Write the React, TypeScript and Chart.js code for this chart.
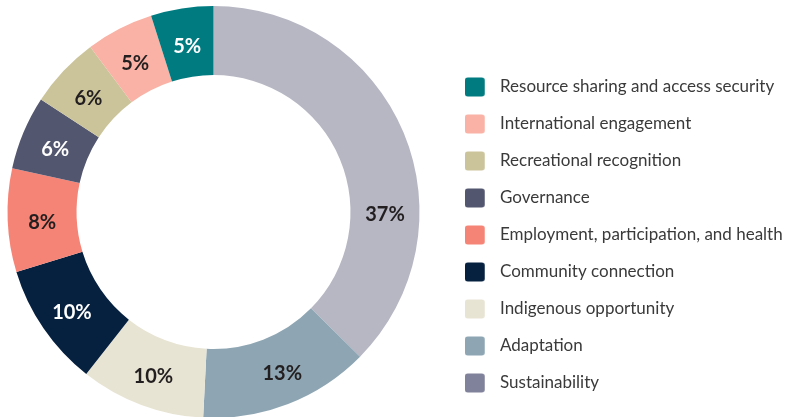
import React, { useEffect, useRef } from 'react';
import { Chart, registerables } from 'chart.js';

Chart.register(...registerables);

// Data (clockwise from 12 o'clock)
const categories = [
  'Sustainability',
  'Adaptation',
  'Indigenous opportunity',
  'Community connection',
  'Employment, participation, and health',
  'Governance',
  'Recreational recognition',
  'International engagement',
  'Resource sharing and access security',
];
const shares = [37.4, 13.4, 9.8, 9.7, 8.1, 5.8, 5.6, 5.3, 4.9];
const shareLabels = ['37%', '13%', '10%', '10%', '8%', '6%', '6%', '5%', '5%'];

// Styles
const sliceColors = ['#b7b7c4', '#8ea6b3', '#e8e4d3', '#06203f', '#f58476', '#53566f', '#cbc49b', '#f9b2a5', '#007b80'];
const legendColors = ['#80819a', '#8ea6b3', '#e8e4d3', '#06203f', '#f58476', '#53566f', '#cbc49b', '#f9b2a5', '#007b80'];
const labelColors = ['#231f20', '#231f20', '#231f20', '#ffffff', '#231f20', '#ffffff', '#231f20', '#231f20', '#ffffff'];
const labelAnchor = [0.666, 0.45, 0.5, 0.5, 0.5, 0.5, 0.5, 0.5, 0.5];

const FONT = 'Lato, "Open Sans", sans-serif';
const LEGEND_FONT_SIZE = 17;
const ROW_GAP = 37;
const LEGEND_X = 465;
const LEGEND_TEXT_X = 500;
const LEGEND_FIRST_Y = 78.5;
const SWATCH_W = LEGEND_TEXT_X - LEGEND_X - LEGEND_FONT_SIZE / 2;
const LABEL_DROP = 4;

function makeSwatch(color: string): HTMLCanvasElement {
  const c = document.createElement('canvas');
  c.width = Math.round(SWATCH_W);
  c.height = 20;
  const g = c.getContext('2d')!;
  g.fillStyle = color;
  g.beginPath();
  (g as any).roundRect(0, 0.5, 20, 19, 3);
  g.fill();
  return c;
}

const sliceLabels = {
  id: 'sliceLabels',
  afterDatasetsDraw(chart: any) {
    const meta = chart.getDatasetMeta(0);
    const ctx = chart.ctx;
    ctx.save();
    ctx.font = `bold 20px ${FONT}`;
    ctx.textAlign = 'center';
    ctx.textBaseline = 'middle';
    meta.data.forEach((arc: any, i: number) => {
      const p = arc.getProps(['x', 'y', 'startAngle', 'endAngle', 'innerRadius', 'outerRadius'], true);
      const a = p.startAngle + (p.endAngle - p.startAngle) * labelAnchor[i];
      const r = (p.innerRadius + p.outerRadius) / 2;
      ctx.fillStyle = labelColors[i];
      ctx.fillText(shareLabels[i], p.x + r * Math.cos(a), p.y + r * Math.sin(a) + LABEL_DROP);
    });
    ctx.restore();
  },
};

const legendPlacer = {
  id: 'legendPlacer',
  beforeLayout(chart: any) {
    const lg = chart.legend;
    if (lg && !lg.__patched) {
      const fit = lg.fit;
      lg.fit = function () {
        fit.call(this);
        this.width = 382.5;
      };
      lg.__patched = true;
    }
  },
  afterLayout(chart: any) {
    const lg = chart.legend;
    if (!lg) return;
    const pad = ROW_GAP - LEGEND_FONT_SIZE;
    lg.left = LEGEND_X - pad;
    lg.right = 802;
    lg.top = LEGEND_FIRST_Y - pad;
    lg.bottom = 470;
    lg.width = lg.right - lg.left;
    lg.height = lg.bottom - lg.top;
  },
};

export default function App() {
  const ref = useRef<HTMLCanvasElement | null>(null);
  useEffect(() => {
    document.body.style.margin = '0';
    const swatches = legendColors.map(makeSwatch);
    const chart = new Chart(ref.current!, {
      type: 'doughnut',
      data: {
        labels: categories,
        datasets: [
          {
            data: shares,
            backgroundColor: sliceColors,
            borderWidth: 0,
          },
        ],
      },
      options: {
        responsive: false,
        animation: false,
        cutout: '66.5%',
        layout: { padding: { left: 7.5, top: 6, right: 0, bottom: 0 } },
        plugins: {
          tooltip: { enabled: false },
          legend: {
            position: 'right',
            align: 'start',
            reverse: true,
            labels: {
              usePointStyle: true,
              pointStyleWidth: SWATCH_W,
              padding: ROW_GAP - LEGEND_FONT_SIZE,
              color: '#3a3a3a',
              font: { family: FONT, size: LEGEND_FONT_SIZE },
              generateLabels(chart: any) {
                const base = (Chart as any).overrides.doughnut.plugins.legend.labels.generateLabels(chart);
                return base.map((item: any, i: number) => ({
                  ...item,
                  fillStyle: legendColors[i],
                  pointStyle: swatches[i],
                }));
              },
            },
          },
        },
      } as any,
      plugins: [sliceLabels, legendPlacer],
    });
    return () => chart.destroy();
  }, []);
  return (
    <div style={{ width: 802, height: 417, overflow: 'hidden', background: '#fff' }}>
      <canvas ref={ref} width={802} height={418} style={{ display: 'block', width: 802, height: 418 }} />
    </div>
  );
}
